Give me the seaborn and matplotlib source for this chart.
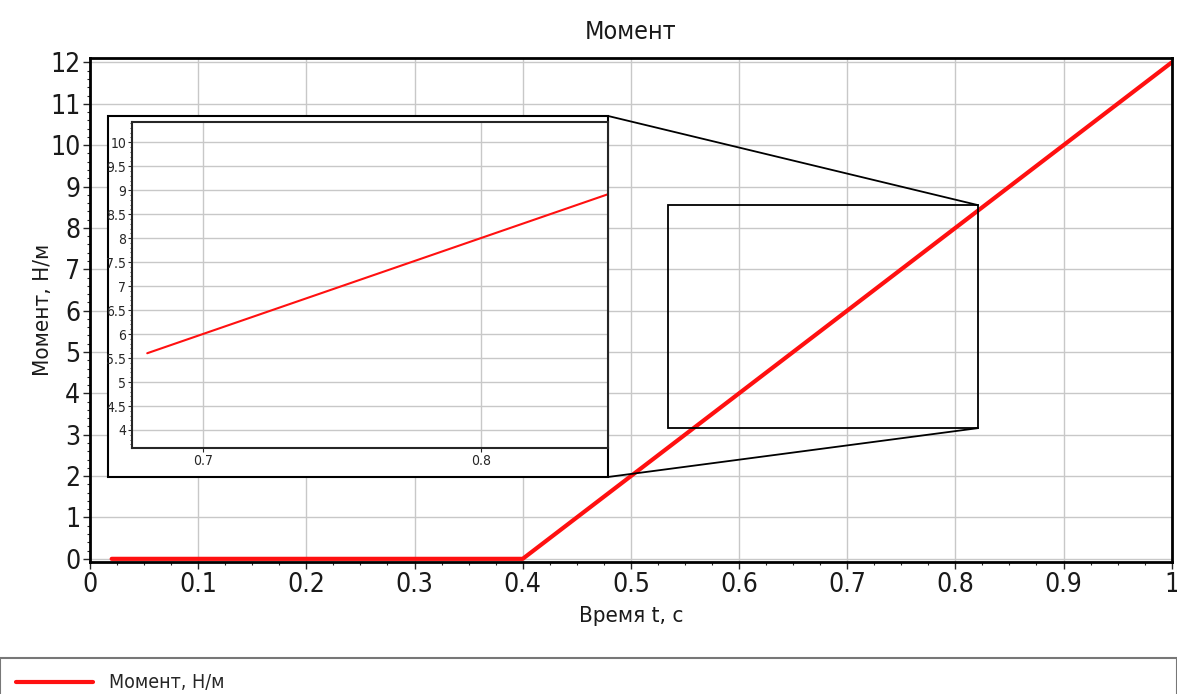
#!/usr/bin/env python3

import pandas as pd
import seaborn as sns
import matplotlib.pyplot as plt
from matplotlib.patches import Rectangle, ConnectionPatch
from matplotlib.ticker import MultipleLocator, FormatStrFormatter

# Values
time_s = [0.02, 0.1, 0.2, 0.3, 0.4, 0.5, 0.6, 0.7, 0.8, 0.9, 1.0]
moment = [0, 0, 0, 0, 0, 2, 4, 6, 8, 10, 12]

# part of the curve shown in the inset
inset_t = [0.68, 0.7, 0.8, 0.85]
inset_m = [5.6, 6, 8, 9.0]

x_ticks = [0, 0.1, 0.2, 0.3, 0.4, 0.5, 0.6, 0.7, 0.8, 0.9, 1]
x_tick_labels = ['0', '0.1', '0.2', '0.3', '0.4', '0.5', '0.6', '0.7', '0.8', '0.9', '1']
y_ticks = list(range(0, 13))

# zoom window
zoom_x = [0.534, 0.821]
zoom_y = [3.16, 8.55]
inset_x = [0.6745, 0.8457]
inset_y = [3.625, 10.42]
inset_x_ticks = [0.7, 0.8]
inset_y_ticks = [4, 4.5, 5, 5.5, 6, 6.5, 7, 7.5, 8, 8.5, 9, 9.5, 10]

data = pd.DataFrame({'t': time_s, 'm': moment})
inset_data = pd.DataFrame({'t': inset_t, 'm': inset_m})

sns.set_style('ticks')
plt.rcParams['font.family'] = ['DejaVu Sans']
plt.rcParams['font.stretch'] = 'condensed'

fig = plt.figure(figsize=(11.77, 6.94), dpi=100)
ax = fig.add_axes([0.0765, 0.190, 0.919, 0.726])

sns.lineplot(x='t', y='m', data=data, ax=ax, color='#ff1010', linewidth=3,
             label='Момент, Н/м', legend=False)

ax.set_xlim(0, 1)
ax.set_ylim(-0.08, 12.1)
ax.set_xticks(x_ticks)
ax.set_xticklabels(x_tick_labels)
ax.set_yticks(y_ticks)
ax.xaxis.set_minor_locator(MultipleLocator(0.025))
ax.yaxis.set_minor_locator(MultipleLocator(0.2))
ax.tick_params(axis='both', which='major', labelsize=19, length=5, width=1, pad=2,
               labelcolor='#1a1a1a')
ax.tick_params(axis='both', which='minor', length=2, width=0.8)
ax.grid(True, which='major', color='#c8c8c8', linewidth=1)
for s in ax.spines.values():
    s.set_linewidth(2)
    s.set_color('black')

ax.set_title('Момент', fontsize=18, pad=14, color='#1a1a1a')
ax.set_xlabel('Время t, с', fontsize=16, labelpad=6, color='#1a1a1a')
ax.set_ylabel('Момент, Н/м', fontsize=16, labelpad=-2, color='#1a1a1a')

# rectangle for zoomed area
ax.add_patch(Rectangle((zoom_x[0], zoom_y[0]), zoom_x[1] - zoom_x[0], zoom_y[1] - zoom_y[0],
                       fill=False, edgecolor='black', linewidth=1.3, zorder=4))

# outer frame for inset
frame = Rectangle((0.0918, 0.3127), 0.4248, 0.5202, transform=fig.transFigure,
                  facecolor='white', edgecolor='black', linewidth=1.5, zorder=5)
fig.patches.append(frame)

ins = fig.add_axes([0.1121, 0.3545, 0.4044, 0.4697], zorder=6)
sns.lineplot(x='t', y='m', data=inset_data, ax=ins, color='#ff1010', linewidth=1.5, legend=False)
ins.set_xlim(inset_x)
ins.set_ylim(inset_y)
ins.set_xticks(inset_x_ticks)
ins.set_yticks(inset_y_ticks)
ins.yaxis.set_major_formatter(FormatStrFormatter('%g'))
ins.yaxis.set_minor_locator(MultipleLocator(0.1))
ins.tick_params(axis='both', which='major', labelsize=10, length=3, pad=1)
ins.tick_params(axis='both', which='minor', length=1.5)
ins.grid(True, which='major', color='#c8c8c8', linewidth=1)
ins.set_xlabel('')
ins.set_ylabel('')
for s in ins.spines.values():
    s.set_linewidth(1.5)

# connector lines
for xa, ya, yb in [(zoom_x[1], zoom_y[1], 0.8329), (zoom_x[1], zoom_y[0], 0.3127)]:
    con = ConnectionPatch(xyA=(xa, ya), coordsA=ax.transData,
                          xyB=(0.5166, yb), coordsB=fig.transFigure,
                          color='black', linewidth=1.3, zorder=5)
    fig.add_artist(con)

# legend box at the bottom
handles, labels = ax.get_legend_handles_labels()
leg = fig.legend(handles, labels, loc='lower left', bbox_to_anchor=(0.0, -0.02, 1.0, 0.06),
                 mode='expand', fontsize=14, frameon=True, fancybox=False,
                 borderaxespad=0, handlelength=4, borderpad=0.8)
leg.get_frame().set_edgecolor('#555555')
leg.get_frame().set_linewidth(1.5)

plt.savefig('out.png', dpi=100)
